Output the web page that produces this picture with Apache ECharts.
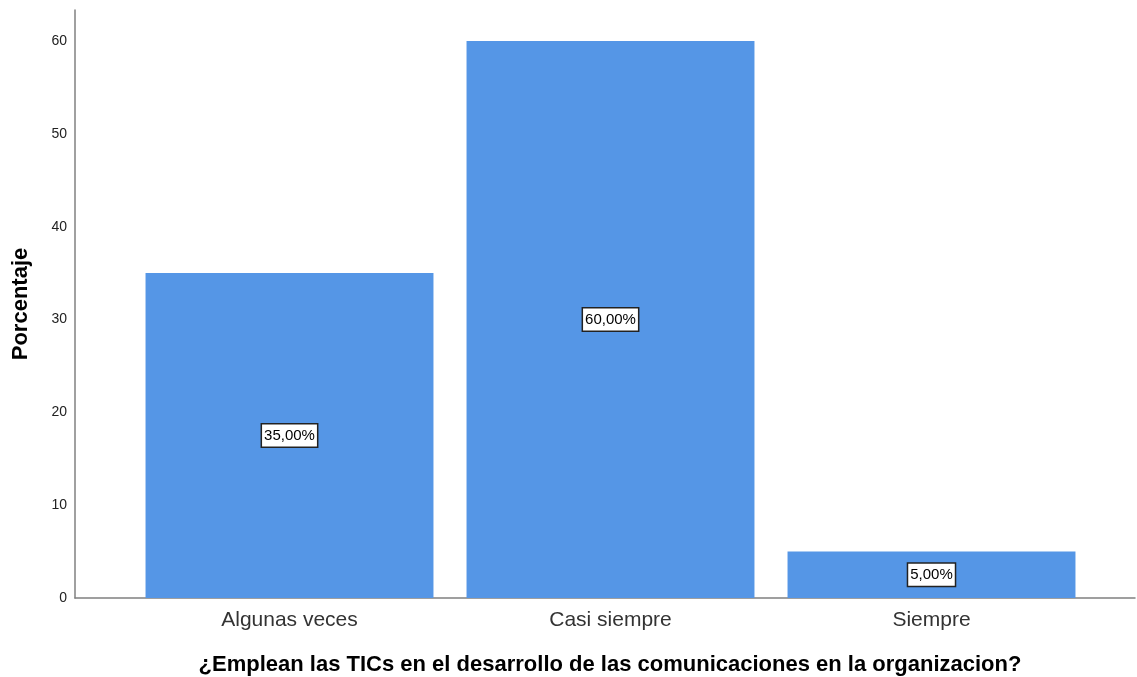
<!DOCTYPE html>
<html>
<head>
<meta charset="utf-8">
<script src="https://cdn.jsdelivr.net/npm/echarts@6/dist/echarts.min.js"></script>
<style>
  html, body { margin: 0; padding: 0; background: #fff; }
  #chart { width: 1137px; height: 677px; }
</style>
</head>
<body>
<div id="chart"></div>
<script>
// Response categories and their percentages
const categories = ['Algunas veces', 'Casi siempre', 'Siempre'];
const percentages = [35, 60, 5];
const yTicks = [0, 10, 20, 30, 40, 50, 60];
const yTitle = 'Porcentaje';
const xTitle = '¿Emplean las TICs en el desarrollo de las comunicaciones en la organizacion?';

const Y_MAX = 63.34;
const FONT = '"Liberation Sans", Arial, sans-serif';

const chart = echarts.init(document.getElementById('chart'));

chart.setOption({
  animation: false,
  grid: [
    // frame grid: carries the axis lines and the value scale
    { left: 75, right: 2, top: 10, bottom: 79, outerBoundsMode: 'none', containLabel: false },
    // bar grid: inset so the bars sit inside the frame
    { left: 129, right: 45, top: 10, bottom: 79, outerBoundsMode: 'none', containLabel: false }
  ],
  xAxis: [
    {
      gridIndex: 0, type: 'category', data: [''],
      axisLine: { show: true, lineStyle: { color: '#808080', width: 1.5 } },
      axisTick: { show: false }, axisLabel: { show: false },
      name: xTitle, nameLocation: 'middle', nameGap: 56,
      nameTextStyle: { fontFamily: FONT, fontSize: 22, fontWeight: 'bold', color: '#000',
        padding: [0, 0, 0, 10] }
    },
    {
      gridIndex: 1, type: 'category', data: categories,
      axisLine: { show: false }, axisTick: { show: false },
      axisLabel: { fontFamily: FONT, fontSize: 21, color: '#333', margin: 12 }
    }
  ],
  yAxis: [
    {
      gridIndex: 0, type: 'value', min: 0, max: Y_MAX, interval: 10,
      axisLine: { show: true, lineStyle: { color: '#808080', width: 1.5 } },
      axisTick: { show: false },
      splitLine: { show: false },
      axisLabel: {
        fontFamily: FONT, fontSize: 14, color: '#222', margin: 8,
        formatter: v => (yTicks.includes(v) ? String(v) : '')
      },
      name: yTitle, nameLocation: 'middle', nameGap: 43, nameRotate: 90,
      nameTextStyle: { fontFamily: FONT, fontSize: 22, fontWeight: 'bold', color: '#000' }
    },
    {
      gridIndex: 1, type: 'value', min: 0, max: Y_MAX, show: false
    }
  ],
  series: [{
    type: 'bar',
    xAxisIndex: 1, yAxisIndex: 1,
    data: percentages,
    barCategoryGap: '10.3%',
    itemStyle: { color: '#5596E6' },
    label: {
      show: true, position: 'inside',
      formatter: p => p.value.toFixed(2).replace('.', ',') + '%',
      fontFamily: FONT, fontSize: 15, color: '#000',
      backgroundColor: '#fff', borderColor: '#222', borderWidth: 1.5,
      padding: [4, 2, 3, 2], borderRadius: 0
    }
  }]
});
</script>
</body>
</html>
